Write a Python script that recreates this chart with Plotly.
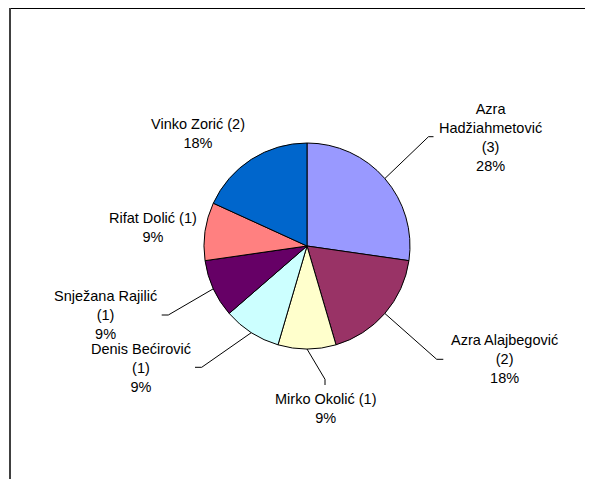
import math
import plotly.graph_objects as go

# ---- data ----
names = ["Azra Hadžiahmetović", "Azra Alajbegović", "Mirko Okolić", "Denis Bećirović",
         "Snježana Rajilić", "Rifat Dolić", "Vinko Zorić"]
counts = [3, 2, 1, 1, 1, 1, 2]
percent_labels = ["28%", "18%", "9%", "9%", "9%", "9%", "18%"]
label_texts = [
    "Azra<br>Hadžiahmetović<br>(3)<br>28%",
    "Azra Alajbegović<br>(2)<br>18%",
    "Mirko Okolić (1)<br>9%",
    "Denis Bećirović<br>(1)<br>9%",
    "Snježana Rajilić<br>(1)<br>9%",
    "Rifat Dolić (1)<br>9%",
    "Vinko Zorić (2)<br>18%",
]
colors = ["#9999FF", "#993366", "#FFFFCC", "#CCFFFF", "#660066", "#FF8080", "#0066CC"]

# ---- layout constants (page pixels) ----
W, H = 593, 479
OFF = 8                             # page body margin
CX, CY, R = 307, 246, 103          # pie centre / radius in px
# label block centres (px)
label_pos = [(490, 137), (504, 359), (326, 408), (141, 368), (106, 315), (153, 227), (198, 133)]
# leader line: bend point and stub end (px); None = no leader
leaders = [
    ((428.5, 136.7), (433.5, 136.7)),
    ((436.7, 359.3), (443.3, 359.3)),
    ((325, 379.3), (325, 385)),
    ((201.7, 367.3), (195, 367.3)),
    ((168.3, 315), (161.7, 315)),
    None,
    None,
]

def px(x):
    return (x - OFF) / W

def py(y):
    return 1 - (y - OFF) / H

fig = go.Figure(go.Pie(
    values=counts,
    labels=names,
    marker=dict(colors=colors, line=dict(color="black", width=1)),
    sort=False,
    direction="clockwise",
    rotation=0,
    textinfo="none",
    hoverinfo="skip",
    showlegend=False,
    domain=dict(x=[px(CX - R), px(CX + R)], y=[py(CY + R), py(CY - R)]),
))

shapes = []
annotations = []
total = sum(counts)
cum = 0
for i, v in enumerate(counts):
    mid = (cum + v / 2) / total * 2 * math.pi
    cum += v
    ex = CX + R * math.sin(mid)
    ey = CY - R * math.cos(mid)
    if leaders[i] is not None:
        (bx, by), (sx, sy) = leaders[i]
        shapes.append(dict(type="path", xref="paper", yref="paper",
                           path=f"M {px(ex)},{py(ey)} L {px(bx)},{py(by)} L {px(sx)},{py(sy)}",
                           line=dict(color="black", width=1)))
    lx, ly = label_pos[i]
    annotations.append(dict(text=label_texts[i], x=px(lx), y=py(ly), xref="paper", yref="paper",
                            xanchor="center", yanchor="middle", showarrow=False, align="center",
                            font=dict(family="Liberation Sans, Arial", size=14.5, color="black")))

# chart frame (top and left edges)
shapes.append(dict(type="line", xref="paper", yref="paper", x0=px(9), x1=1, y0=py(8.5), y1=py(8.5),
                   line=dict(color="black", width=1)))
shapes.append(dict(type="line", xref="paper", yref="paper", x0=px(10), x1=px(10), y0=py(8), y1=0,
                   line=dict(color="#404040", width=2)))

fig.update_layout(
    width=W, height=H,
    margin=dict(l=0, r=0, t=0, b=0),
    paper_bgcolor="white", plot_bgcolor="white",
    shapes=shapes, annotations=annotations,
)

fig.write_html("out.html")
